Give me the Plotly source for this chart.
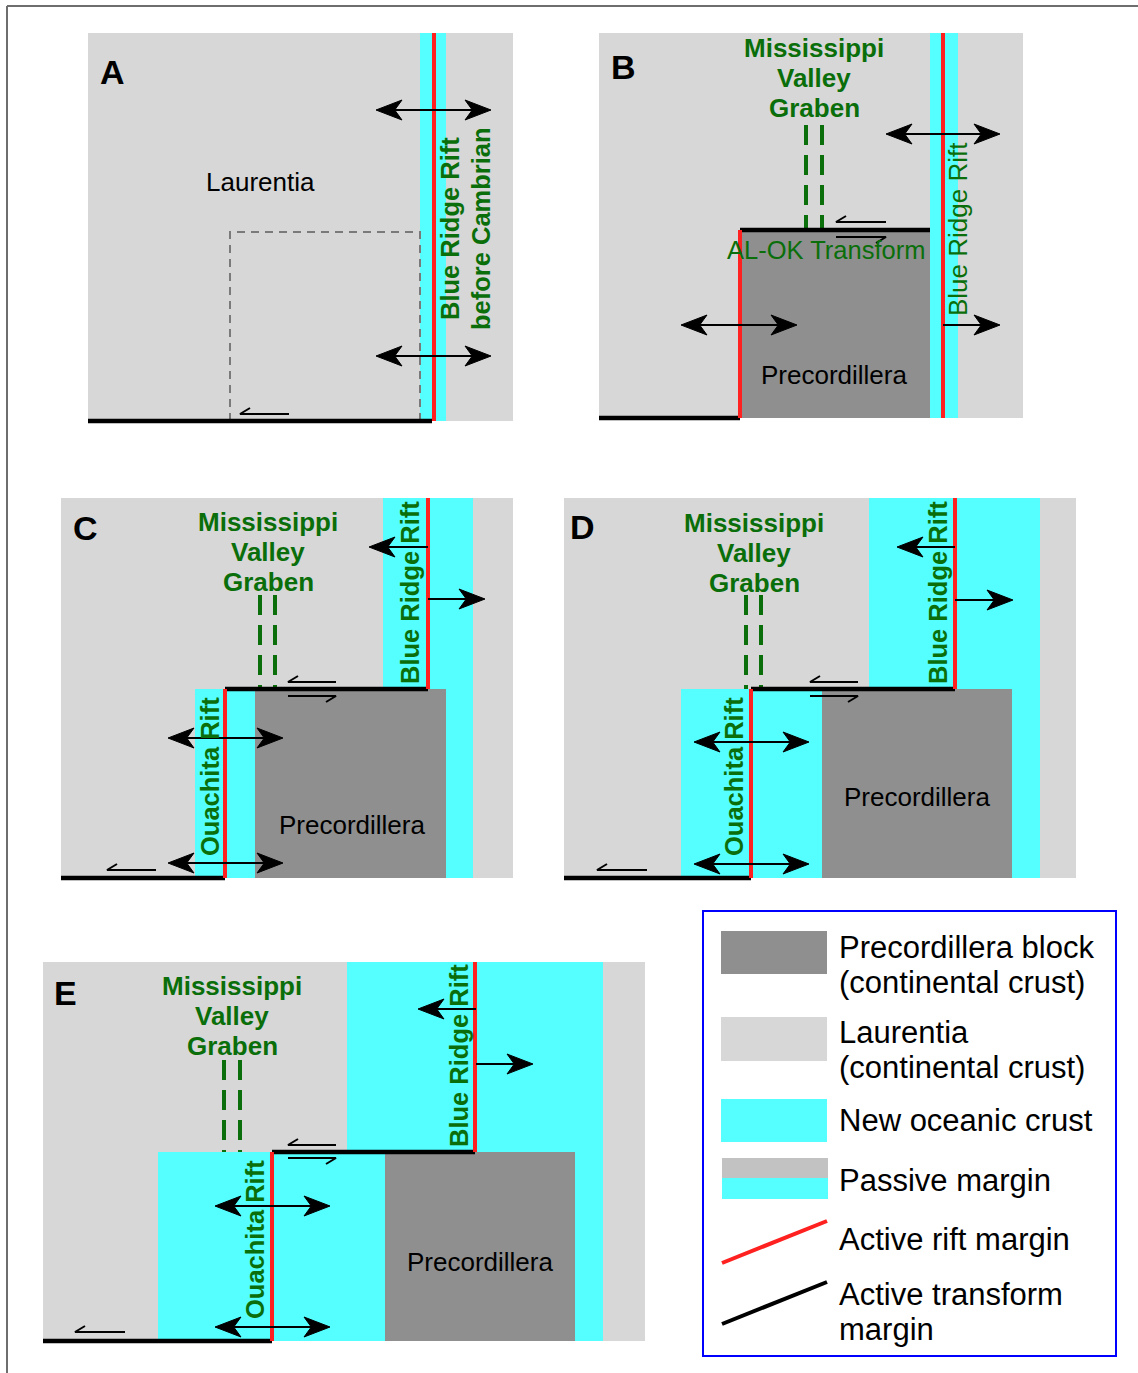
import plotly.graph_objects as go

LIGHT = '#d7d7d7'
DARK = '#8f8f8f'
OCEAN = '#55ffff'
RED = '#ff2020'
GREEN = '#0a6e0a'
FONT = 'Liberation Sans, Arial, sans-serif'

# panel frames (x0, y0, x1, y1) in page pixels
PANEL_NAMES = ['A', 'B', 'C', 'D', 'E']
PANEL_BOXES = [(88, 33, 513, 421), (599, 33, 1023, 418), (61, 498, 513, 878),
               (564, 498, 1076, 878), (43, 962, 645, 1341)]
PANEL_LETTER_XY = [(112, 72), (623, 67), (85, 528), (582, 527), (65, 993)]

OCEAN_BOXES = [(420, 33, 446, 421), (930, 33, 958, 418),
               (383, 498, 473, 689), (195, 689, 473, 878),
               (869, 498, 1040, 689), (681, 689, 1040, 878),
               (347, 962, 603, 1152), (158, 1152, 603, 1341)]
BLOCK_BOXES = [(740, 230, 930, 418), (255, 689, 446, 878),
               (822, 689, 1012, 878), (385, 1152, 575, 1341)]

# rift margins: x, y top, y bottom
RIFT_LINES = [(434, 33, 421), (740, 230, 418), (943, 33, 418),
              (225, 689, 878), (428, 498, 689), (751, 689, 878),
              (955, 498, 689), (272, 1152, 1341), (475, 962, 1152)]
# transform margins: x0, x1, y
TRANSFORM_LINES = [(88, 432, 421), (599, 740, 418), (740, 930, 230),
                   (61, 225, 878), (225, 428, 689), (564, 751, 878),
                   (751, 955, 689), (43, 272, 1341), (272, 475, 1152)]
# graben: left x, right x, y top, y bottom
GRABEN_DASHES = [(806, 822, 125, 230), (260, 275, 595, 689),
                 (746, 761, 595, 689), (224, 240, 1060, 1152)]
GRABEN_LABEL_XY = [(814, 48), (268, 522), (754, 523), (232, 986)]
GRABEN_WORDS = ['Mississippi', 'Valley', 'Graben']

DOUBLE_ARROWS = [(376, 491, 110), (376, 491, 356), (886, 1000, 134),
                 (681, 797, 325), (168, 283, 738), (168, 283, 863),
                 (694, 809, 742), (694, 809, 864), (215, 330, 1206),
                 (215, 330, 1327)]
# start x, tip x, y
SINGLE_ARROWS = [(943, 1000, 325), (428, 369, 547), (428, 485, 599),
                 (955, 897, 547), (955, 1013, 600), (476, 418, 1009),
                 (476, 533, 1064)]
# shear sense half arrows: x0, x1, y, side
SHEAR_ARROWS = [(240, 289, 414, 'L'), (836, 886, 222, 'L'), (836, 886, 237, 'R'),
                (288, 336, 682, 'L'), (288, 336, 696, 'R'), (107, 156, 870, 'L'),
                (810, 858, 682, 'L'), (810, 858, 696, 'R'), (597, 647, 870, 'L'),
                (288, 336, 1145, 'L'), (288, 336, 1158, 'R'), (75, 125, 1332, 'L')]

BLOCK_LABEL_XY = [(834, 375), (352, 825), (917, 797), (480, 1262)]
# vertical rift labels: text, x, y, bold
RIFT_LABELS = [('Blue Ridge Rift', 450, 229, True), ('before Cambrian', 481, 229, True),
               ('Blue Ridge Rift', 958, 229, False),
               ('Blue Ridge Rift', 410, 593, True), ('Ouachita Rift', 210, 777, True),
               ('Blue Ridge Rift', 938, 593, True), ('Ouachita Rift', 734, 777, True),
               ('Blue Ridge Rift', 459, 1056, True), ('Ouachita Rift', 255, 1240, True)]

LEGEND_BOX = (703, 911, 1116, 1356)
LEGEND_LINES = [('Precordillera block', 947), ('(continental crust)', 982),
                ('Laurentia', 1032), ('(continental crust)', 1067),
                ('New oceanic crust', 1120), ('Passive margin', 1180),
                ('Active rift margin', 1239), ('Active transform', 1294),
                ('margin', 1329)]

fig = go.Figure()


def rect(x0, y0, x1, y1, color, line=None):
    fig.add_shape(type='rect', x0=x0, y0=y0, x1=x1, y1=y1, layer='below',
                  fillcolor=color, line=line or dict(width=0))


def seg(x0, y0, x1, y1, color, width, dash='solid'):
    fig.add_shape(type='line', x0=x0, y0=y0, x1=x1, y1=y1, layer='below',
                  line=dict(color=color, width=width, dash=dash))


def text(s, x, y, size, color='black', bold=False, angle=0, xanchor='center'):
    if bold:
        s = '<b>' + s + '</b>'
    fig.add_annotation(x=x, y=y, text=s, showarrow=False, textangle=angle,
                       xanchor=xanchor, yanchor='middle',
                       font=dict(family=FONT, size=size, color=color))


head_x, head_y = [], []


def head(tip, y, d, L=26, W=20):
    head_x.extend([tip, tip - d * L, tip - d * 0.72 * L, tip - d * L, tip, None])
    head_y.extend([y, y - W / 2, y, y + W / 2, y, None])


# outer frame
seg(7, 6, 1138, 6, '#6e6e6e', 2)
seg(7, 6, 7, 1373, '#6e6e6e', 2)

for box in PANEL_BOXES:
    rect(*box, LIGHT)
for box in OCEAN_BOXES:
    rect(*box, OCEAN)
for box in BLOCK_BOXES:
    rect(*box, DARK)

# dashed outline of the future block in panel A
fig.add_shape(type='path', path='M 230,421 L 230,232 L 420,232 L 420,421',
              layer='below', line=dict(color='#7a7a7a', width=2, dash='8px,6px'))

for xl, xr, y0, y1 in GRABEN_DASHES:
    seg(xl, y0, xl, y1, GREEN, 4, '20px,10px')
    seg(xr, y0, xr, y1, GREEN, 4, '20px,10px')

for x0, x1, y in TRANSFORM_LINES:
    seg(x0, y, x1, y, 'black', 4.5)
for x, y0, y1 in RIFT_LINES:
    seg(x, y0, x, y1, RED, 4)

for x0, x1, y in DOUBLE_ARROWS:
    seg(x0 + 18, y, x1 - 18, y, 'black', 2)
    head(x0, y, -1)
    head(x1, y, 1)
for xs, xt, y in SINGLE_ARROWS:
    d = 1 if xt > xs else -1
    seg(xs, y, xt - d * 18, y, 'black', 2)
    head(xt, y, d)

fig.add_trace(go.Scatter(x=head_x, y=head_y, mode='lines', fill='toself',
                         fillcolor='black', line=dict(color='black', width=1),
                         hoverinfo='skip', showlegend=False))

sx, sy = [], []
for x0, x1, y, side in SHEAR_ARROWS:
    if side == 'L':
        sx.extend([x1, x0, x0 + 10, None])
        sy.extend([y, y, y - 6, None])
    else:
        sx.extend([x0, x1, x1 - 10, None])
        sy.extend([y, y, y + 6, None])
fig.add_trace(go.Scatter(x=sx, y=sy, mode='lines', line=dict(color='black', width=2),
                         hoverinfo='skip', showlegend=False))

# labels
for name, (x, y) in zip(PANEL_NAMES, PANEL_LETTER_XY):
    text(name, x, y, 34, bold=True)
text('Laurentia', 260, 182, 26)
for x, y in GRABEN_LABEL_XY:
    for i, w in enumerate(GRABEN_WORDS):
        text(w, x, y + 30 * i, 26, GREEN, bold=True)
text('AL-OK Transform', 826, 250, 25.5, GREEN)
for x, y in BLOCK_LABEL_XY:
    text('Precordillera', x, y, 26)
for s, x, y, b in RIFT_LABELS:
    text(s, x, y, 25.5 if b else 26, GREEN, bold=b, angle=-90)

# legend
lx0, ly0, lx1, ly1 = LEGEND_BOX
rect(lx0, ly0, lx1, ly1, 'rgba(0,0,0,0)', dict(color='#0000ff', width=2))
rect(721, 931, 827, 974, DARK)
rect(721, 1017, 827, 1061, LIGHT)
rect(721, 1099, 827, 1142, OCEAN)
rect(722, 1158, 828, 1178, '#c2c2c2')
rect(722, 1178, 828, 1199, OCEAN)
seg(722, 1263, 827, 1221, RED, 4)
seg(722, 1324, 827, 1282, 'black', 4)
for s, y in LEGEND_LINES:
    text(s, 837, y, 31, xanchor='left')

fig.update_layout(
    width=1138, height=1373,
    margin=dict(l=0, r=0, t=0, b=0),
    paper_bgcolor='white', plot_bgcolor='white',
    showlegend=False,
    xaxis=dict(range=[0, 1138], visible=False, showgrid=False, zeroline=False),
    yaxis=dict(range=[1373, 0], visible=False, showgrid=False, zeroline=False),
)

fig.write_html("out.html", post_script="document.body.style.margin='0';",
               config={'displayModeBar': False})
